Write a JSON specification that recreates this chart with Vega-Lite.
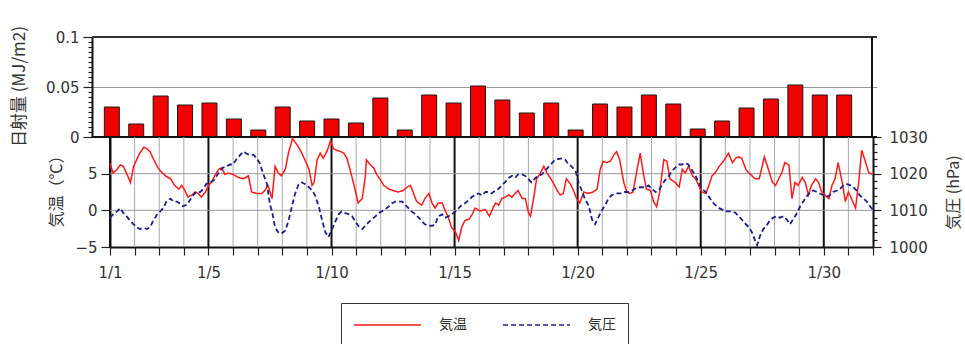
{
  "$schema": "https://vega.github.io/schema/vega-lite/v6.json",
  "width": 785,
  "height": 210,
  "autosize": {"type": "none"},
  "padding": {"left": 92, "top": 37, "right": 88, "bottom": 97},
  "background": "white",
  "config": {
    "view": {"stroke": null},
    "axis": {
      "labelFont": "DejaVu Sans",
      "labelFontSize": 15,
      "labelColor": "#333",
      "titleFont": "Noto Sans CJK JP",
      "titleFontSize": 16,
      "titleFontWeight": "normal",
      "titleColor": "#333",
      "titleAlign": "center",
      "titleBaseline": "middle",
      "domainColor": "#111",
      "domainWidth": 2,
      "tickColor": "#222",
      "tickWidth": 1.2,
      "labelOverlap": false,
      "labelFlush": false
    }
  },
  "datasets": {
    "radiation": [
      {"day": 1, "rad": 0.030}, {"day": 2, "rad": 0.013}, {"day": 3, "rad": 0.041}, {"day": 4, "rad": 0.032},
      {"day": 5, "rad": 0.034}, {"day": 6, "rad": 0.018}, {"day": 7, "rad": 0.007}, {"day": 8, "rad": 0.030},
      {"day": 9, "rad": 0.016}, {"day": 10, "rad": 0.018}, {"day": 11, "rad": 0.014}, {"day": 12, "rad": 0.039},
      {"day": 13, "rad": 0.007}, {"day": 14, "rad": 0.042}, {"day": 15, "rad": 0.034}, {"day": 16, "rad": 0.051},
      {"day": 17, "rad": 0.037}, {"day": 18, "rad": 0.024}, {"day": 19, "rad": 0.034}, {"day": 20, "rad": 0.007},
      {"day": 21, "rad": 0.033}, {"day": 22, "rad": 0.030}, {"day": 23, "rad": 0.042}, {"day": 24, "rad": 0.033},
      {"day": 25, "rad": 0.008}, {"day": 26, "rad": 0.016}, {"day": 27, "rad": 0.029}, {"day": 28, "rad": 0.038},
      {"day": 29, "rad": 0.052}, {"day": 30, "rad": 0.042}, {"day": 31, "rad": 0.042}
    ],
    "minorDays": [
      {"hour": 24}, {"hour": 48}, {"hour": 72}, {"hour": 120}, {"hour": 144}, {"hour": 168}, {"hour": 192},
      {"hour": 240}, {"hour": 264}, {"hour": 288}, {"hour": 312}, {"hour": 360}, {"hour": 384}, {"hour": 408},
      {"hour": 432}, {"hour": 480}, {"hour": 504}, {"hour": 528}, {"hour": 552}, {"hour": 600}, {"hour": 624},
      {"hour": 648}, {"hour": 672}, {"hour": 720}
    ],
    "majorDays": [
      {"hour": 0}, {"hour": 96}, {"hour": 216}, {"hour": 336}, {"hour": 456}, {"hour": 576}, {"hour": 696}
    ],
    "tempLevels": [{"temp": 0}, {"temp": 5}],
    "temperature": [
      {"hour": 0, "temp": 6.4}, {"hour": 3, "temp": 5.1}, {"hour": 7, "temp": 5.6}, {"hour": 10, "temp": 6.2},
      {"hour": 13, "temp": 6.0}, {"hour": 16, "temp": 5.1}, {"hour": 20, "temp": 3.8}, {"hour": 23, "temp": 6.0},
      {"hour": 26, "temp": 6.9}, {"hour": 29, "temp": 7.8}, {"hour": 33, "temp": 8.6}, {"hour": 36, "temp": 8.4},
      {"hour": 39, "temp": 8.0}, {"hour": 42, "temp": 7.1}, {"hour": 46, "temp": 6.0}, {"hour": 49, "temp": 5.4},
      {"hour": 54, "temp": 4.7}, {"hour": 59, "temp": 4.3}, {"hour": 63, "temp": 3.4}, {"hour": 67, "temp": 2.9},
      {"hour": 70, "temp": 3.4}, {"hour": 73, "temp": 2.7}, {"hour": 76, "temp": 1.8}, {"hour": 80, "temp": 2.1},
      {"hour": 83, "temp": 2.5}, {"hour": 86, "temp": 2.3}, {"hour": 89, "temp": 1.8}, {"hour": 93, "temp": 2.5},
      {"hour": 96, "temp": 3.4}, {"hour": 99, "temp": 3.8}, {"hour": 102, "temp": 4.7}, {"hour": 106, "temp": 5.6},
      {"hour": 109, "temp": 5.8}, {"hour": 112, "temp": 4.9}, {"hour": 115, "temp": 5.1}, {"hour": 120, "temp": 4.9},
      {"hour": 125, "temp": 4.5}, {"hour": 130, "temp": 4.3}, {"hour": 135, "temp": 4.7}, {"hour": 138, "temp": 2.5},
      {"hour": 143, "temp": 2.3}, {"hour": 148, "temp": 2.3}, {"hour": 151, "temp": 2.7}, {"hour": 154, "temp": 3.4},
      {"hour": 158, "temp": 1.6}, {"hour": 161, "temp": 6.0}, {"hour": 164, "temp": 5.1}, {"hour": 167, "temp": 4.7},
      {"hour": 171, "temp": 5.6}, {"hour": 174, "temp": 7.8}, {"hour": 178, "temp": 9.8}, {"hour": 181, "temp": 9.2},
      {"hour": 184, "temp": 8.6}, {"hour": 187, "temp": 7.8}, {"hour": 190, "temp": 6.9}, {"hour": 194, "temp": 5.6},
      {"hour": 197, "temp": 3.4}, {"hour": 199, "temp": 3.8}, {"hour": 202, "temp": 6.9}, {"hour": 205, "temp": 7.8},
      {"hour": 208, "temp": 7.1}, {"hour": 212, "temp": 8.2}, {"hour": 215, "temp": 9.5}, {"hour": 218, "temp": 8.4},
      {"hour": 221, "temp": 8.2}, {"hour": 225, "temp": 8.0}, {"hour": 228, "temp": 7.8}, {"hour": 231, "temp": 7.1},
      {"hour": 234, "temp": 5.6}, {"hour": 238, "temp": 3.4}, {"hour": 242, "temp": 1.0}, {"hour": 246, "temp": 1.6},
      {"hour": 249, "temp": 4.7}, {"hour": 250, "temp": 6.9}, {"hour": 254, "temp": 6.2}, {"hour": 257, "temp": 5.8},
      {"hour": 260, "temp": 4.9}, {"hour": 263, "temp": 4.3}, {"hour": 267, "temp": 3.4}, {"hour": 272, "temp": 2.9},
      {"hour": 276, "temp": 2.7}, {"hour": 281, "temp": 2.5}, {"hour": 286, "temp": 2.7}, {"hour": 290, "temp": 3.2},
      {"hour": 293, "temp": 3.4}, {"hour": 296, "temp": 2.3}, {"hour": 299, "temp": 1.2}, {"hour": 304, "temp": 0.7},
      {"hour": 307, "temp": 1.6}, {"hour": 311, "temp": 2.3}, {"hour": 314, "temp": 1.0}, {"hour": 317, "temp": 0.3},
      {"hour": 320, "temp": 1.0}, {"hour": 324, "temp": 1.0}, {"hour": 327, "temp": -0.1}, {"hour": 330, "temp": -1.0},
      {"hour": 333, "temp": -2.3}, {"hour": 337, "temp": -3.0}, {"hour": 340, "temp": -4.1}, {"hour": 343, "temp": -2.3},
      {"hour": 346, "temp": -1.4}, {"hour": 350, "temp": -1.2}, {"hour": 353, "temp": -0.6}, {"hour": 356, "temp": 0.3},
      {"hour": 361, "temp": -0.1}, {"hour": 366, "temp": 0.1}, {"hour": 370, "temp": -0.8}, {"hour": 374, "temp": 0.5},
      {"hour": 376, "temp": 1.0}, {"hour": 379, "temp": 0.7}, {"hour": 382, "temp": 1.6}, {"hour": 385, "temp": 1.8},
      {"hour": 389, "temp": 2.1}, {"hour": 392, "temp": 1.8}, {"hour": 395, "temp": 2.3}, {"hour": 398, "temp": 2.7},
      {"hour": 402, "temp": 1.6}, {"hour": 405, "temp": 1.6}, {"hour": 408, "temp": -0.3}, {"hour": 410, "temp": -0.8},
      {"hour": 413, "temp": 1.6}, {"hour": 416, "temp": 4.3}, {"hour": 419, "temp": 4.9}, {"hour": 423, "temp": 6.0},
      {"hour": 426, "temp": 5.1}, {"hour": 429, "temp": 4.5}, {"hour": 432, "temp": 3.8}, {"hour": 436, "temp": 2.7},
      {"hour": 439, "temp": 2.1}, {"hour": 442, "temp": 2.3}, {"hour": 445, "temp": 4.3}, {"hour": 449, "temp": 3.6},
      {"hour": 452, "temp": 2.7}, {"hour": 455, "temp": 1.6}, {"hour": 458, "temp": 1.0}, {"hour": 462, "temp": 2.5},
      {"hour": 466, "temp": 2.3}, {"hour": 471, "temp": 2.5}, {"hour": 475, "temp": 2.9}, {"hour": 478, "temp": 5.6},
      {"hour": 481, "temp": 6.7}, {"hour": 484, "temp": 6.5}, {"hour": 488, "temp": 6.7}, {"hour": 491, "temp": 7.5},
      {"hour": 494, "temp": 8.0}, {"hour": 497, "temp": 6.9}, {"hour": 501, "temp": 3.8}, {"hour": 504, "temp": 2.5},
      {"hour": 507, "temp": 2.3}, {"hour": 510, "temp": 2.5}, {"hour": 514, "temp": 5.6}, {"hour": 517, "temp": 7.8},
      {"hour": 520, "temp": 5.1}, {"hour": 523, "temp": 2.9}, {"hour": 527, "temp": 2.7}, {"hour": 530, "temp": 1.2},
      {"hour": 533, "temp": 0.5}, {"hour": 536, "temp": 2.5}, {"hour": 540, "temp": 6.9}, {"hour": 543, "temp": 6.7},
      {"hour": 546, "temp": 4.3}, {"hour": 551, "temp": 3.8}, {"hour": 555, "temp": 3.2}, {"hour": 558, "temp": 5.6},
      {"hour": 561, "temp": 5.1}, {"hour": 564, "temp": 6.0}, {"hour": 568, "temp": 4.7}, {"hour": 571, "temp": 4.3},
      {"hour": 574, "temp": 3.4}, {"hour": 577, "temp": 2.5}, {"hour": 581, "temp": 2.3}, {"hour": 584, "temp": 3.4},
      {"hour": 587, "temp": 4.7}, {"hour": 590, "temp": 5.1}, {"hour": 594, "temp": 6.0}, {"hour": 597, "temp": 6.5},
      {"hour": 600, "temp": 7.1}, {"hour": 603, "temp": 7.8}, {"hour": 607, "temp": 6.5}, {"hour": 610, "temp": 7.1},
      {"hour": 613, "temp": 7.3}, {"hour": 616, "temp": 7.1}, {"hour": 620, "temp": 5.6}, {"hour": 623, "temp": 5.1},
      {"hour": 626, "temp": 4.7}, {"hour": 629, "temp": 4.3}, {"hour": 633, "temp": 4.3}, {"hour": 636, "temp": 6.0},
      {"hour": 638, "temp": 7.3}, {"hour": 642, "temp": 5.6}, {"hour": 646, "temp": 3.8}, {"hour": 649, "temp": 3.4},
      {"hour": 652, "temp": 4.3}, {"hour": 655, "temp": 5.1}, {"hour": 658, "temp": 6.5}, {"hour": 662, "temp": 6.2},
      {"hour": 665, "temp": 1.6}, {"hour": 668, "temp": 3.8}, {"hour": 671, "temp": 3.4}, {"hour": 675, "temp": 4.5},
      {"hour": 678, "temp": 3.8}, {"hour": 681, "temp": 2.1}, {"hour": 684, "temp": 3.4}, {"hour": 688, "temp": 4.3},
      {"hour": 691, "temp": 3.8}, {"hour": 694, "temp": 2.5}, {"hour": 697, "temp": 2.1}, {"hour": 701, "temp": 1.6},
      {"hour": 704, "temp": 3.4}, {"hour": 707, "temp": 4.3}, {"hour": 710, "temp": 6.5}, {"hour": 714, "temp": 3.8},
      {"hour": 717, "temp": 1.2}, {"hour": 720, "temp": 2.5}, {"hour": 723, "temp": 1.6}, {"hour": 727, "temp": 0.3},
      {"hour": 730, "temp": 3.8}, {"hour": 733, "temp": 8.2}, {"hour": 736, "temp": 6.9}, {"hour": 740, "temp": 5.1},
      {"hour": 744, "temp": 4.9}
    ],
    "pressure": [
      {"hour": 0, "hPa": 1008.0}, {"hour": 3, "hPa": 1008.9}, {"hour": 7, "hPa": 1009.7}, {"hour": 10, "hPa": 1010.6},
      {"hour": 13, "hPa": 1009.3}, {"hour": 16, "hPa": 1008.4}, {"hour": 20, "hPa": 1007.1}, {"hour": 23, "hPa": 1006.2},
      {"hour": 26, "hPa": 1005.4}, {"hour": 29, "hPa": 1004.9}, {"hour": 33, "hPa": 1005.2}, {"hour": 36, "hPa": 1004.9},
      {"hour": 39, "hPa": 1005.4}, {"hour": 42, "hPa": 1007.1}, {"hour": 46, "hPa": 1008.9}, {"hour": 49, "hPa": 1009.7},
      {"hour": 52, "hPa": 1010.6}, {"hour": 55, "hPa": 1012.4}, {"hour": 59, "hPa": 1013.2}, {"hour": 62, "hPa": 1012.4},
      {"hour": 65, "hPa": 1012.4}, {"hour": 68, "hPa": 1011.9}, {"hour": 71, "hPa": 1011.1}, {"hour": 75, "hPa": 1011.5},
      {"hour": 78, "hPa": 1012.8}, {"hour": 81, "hPa": 1014.1}, {"hour": 84, "hPa": 1015.0}, {"hour": 88, "hPa": 1015.0},
      {"hour": 91, "hPa": 1015.9}, {"hour": 94, "hPa": 1017.2}, {"hour": 97, "hPa": 1017.6}, {"hour": 101, "hPa": 1018.1},
      {"hour": 104, "hPa": 1019.4}, {"hour": 107, "hPa": 1020.7}, {"hour": 110, "hPa": 1021.6}, {"hour": 114, "hPa": 1022.0},
      {"hour": 117, "hPa": 1022.5}, {"hour": 120, "hPa": 1022.5}, {"hour": 123, "hPa": 1023.8}, {"hour": 127, "hPa": 1025.1},
      {"hour": 130, "hPa": 1026.0}, {"hour": 133, "hPa": 1025.5}, {"hour": 136, "hPa": 1025.1}, {"hour": 140, "hPa": 1025.1},
      {"hour": 143, "hPa": 1024.2}, {"hour": 146, "hPa": 1022.9}, {"hour": 149, "hPa": 1020.3}, {"hour": 153, "hPa": 1017.2},
      {"hour": 156, "hPa": 1011.5}, {"hour": 158, "hPa": 1009.7}, {"hour": 161, "hPa": 1005.4}, {"hour": 164, "hPa": 1004.0},
      {"hour": 167, "hPa": 1003.6}, {"hour": 171, "hPa": 1004.5}, {"hour": 174, "hPa": 1007.1}, {"hour": 177, "hPa": 1010.6},
      {"hour": 180, "hPa": 1014.1}, {"hour": 184, "hPa": 1017.2}, {"hour": 187, "hPa": 1017.6}, {"hour": 190, "hPa": 1017.2},
      {"hour": 194, "hPa": 1016.3}, {"hour": 197, "hPa": 1015.4}, {"hour": 200, "hPa": 1014.1}, {"hour": 204, "hPa": 1010.6},
      {"hour": 207, "hPa": 1007.1}, {"hour": 210, "hPa": 1004.0}, {"hour": 213, "hPa": 1002.7}, {"hour": 216, "hPa": 1004.5},
      {"hour": 220, "hPa": 1007.1}, {"hour": 223, "hPa": 1008.9}, {"hour": 226, "hPa": 1009.7}, {"hour": 229, "hPa": 1009.3},
      {"hour": 233, "hPa": 1008.9}, {"hour": 236, "hPa": 1008.4}, {"hour": 239, "hPa": 1007.1}, {"hour": 242, "hPa": 1005.8},
      {"hour": 246, "hPa": 1004.9}, {"hour": 249, "hPa": 1005.8}, {"hour": 252, "hPa": 1006.7}, {"hour": 255, "hPa": 1007.5},
      {"hour": 259, "hPa": 1008.4}, {"hour": 262, "hPa": 1009.3}, {"hour": 265, "hPa": 1009.7}, {"hour": 268, "hPa": 1010.2},
      {"hour": 272, "hPa": 1011.1}, {"hour": 275, "hPa": 1011.9}, {"hour": 278, "hPa": 1012.4}, {"hour": 281, "hPa": 1012.4},
      {"hour": 285, "hPa": 1012.4}, {"hour": 288, "hPa": 1011.5}, {"hour": 291, "hPa": 1010.6}, {"hour": 294, "hPa": 1009.7},
      {"hour": 298, "hPa": 1008.9}, {"hour": 301, "hPa": 1008.0}, {"hour": 304, "hPa": 1007.1}, {"hour": 307, "hPa": 1006.2},
      {"hour": 311, "hPa": 1005.8}, {"hour": 314, "hPa": 1005.8}, {"hour": 317, "hPa": 1006.0}, {"hour": 320, "hPa": 1008.4},
      {"hour": 324, "hPa": 1008.9}, {"hour": 327, "hPa": 1008.0}, {"hour": 330, "hPa": 1008.4}, {"hour": 333, "hPa": 1008.9},
      {"hour": 337, "hPa": 1009.7}, {"hour": 340, "hPa": 1010.6}, {"hour": 343, "hPa": 1011.5}, {"hour": 346, "hPa": 1011.9},
      {"hour": 350, "hPa": 1012.8}, {"hour": 353, "hPa": 1013.7}, {"hour": 356, "hPa": 1014.1}, {"hour": 359, "hPa": 1014.6},
      {"hour": 363, "hPa": 1014.1}, {"hour": 366, "hPa": 1015.0}, {"hour": 369, "hPa": 1015.0}, {"hour": 372, "hPa": 1014.6},
      {"hour": 376, "hPa": 1015.4}, {"hour": 379, "hPa": 1015.9}, {"hour": 382, "hPa": 1016.8}, {"hour": 385, "hPa": 1017.6},
      {"hour": 389, "hPa": 1018.9}, {"hour": 392, "hPa": 1019.4}, {"hour": 395, "hPa": 1018.9}, {"hour": 398, "hPa": 1019.8},
      {"hour": 402, "hPa": 1019.8}, {"hour": 405, "hPa": 1019.4}, {"hour": 408, "hPa": 1018.5}, {"hour": 411, "hPa": 1017.6},
      {"hour": 415, "hPa": 1018.9}, {"hour": 418, "hPa": 1019.4}, {"hour": 421, "hPa": 1019.8}, {"hour": 424, "hPa": 1020.7},
      {"hour": 428, "hPa": 1022.0}, {"hour": 431, "hPa": 1022.9}, {"hour": 434, "hPa": 1023.8}, {"hour": 437, "hPa": 1024.0},
      {"hour": 441, "hPa": 1024.2}, {"hour": 444, "hPa": 1023.8}, {"hour": 447, "hPa": 1022.5}, {"hour": 450, "hPa": 1022.0},
      {"hour": 454, "hPa": 1020.7}, {"hour": 457, "hPa": 1017.6}, {"hour": 460, "hPa": 1015.4}, {"hour": 463, "hPa": 1013.2},
      {"hour": 467, "hPa": 1011.1}, {"hour": 470, "hPa": 1007.5}, {"hour": 473, "hPa": 1006.2}, {"hour": 476, "hPa": 1008.0},
      {"hour": 480, "hPa": 1010.2}, {"hour": 483, "hPa": 1011.5}, {"hour": 486, "hPa": 1013.2}, {"hour": 489, "hPa": 1014.1},
      {"hour": 493, "hPa": 1014.6}, {"hour": 496, "hPa": 1014.6}, {"hour": 499, "hPa": 1014.6}, {"hour": 502, "hPa": 1015.0},
      {"hour": 506, "hPa": 1015.0}, {"hour": 509, "hPa": 1015.4}, {"hour": 512, "hPa": 1015.9}, {"hour": 515, "hPa": 1016.3},
      {"hour": 519, "hPa": 1016.3}, {"hour": 522, "hPa": 1016.3}, {"hour": 525, "hPa": 1016.8}, {"hour": 528, "hPa": 1015.9},
      {"hour": 532, "hPa": 1015.0}, {"hour": 535, "hPa": 1015.4}, {"hour": 538, "hPa": 1016.8}, {"hour": 541, "hPa": 1018.1},
      {"hour": 545, "hPa": 1019.4}, {"hour": 548, "hPa": 1020.7}, {"hour": 551, "hPa": 1021.6}, {"hour": 555, "hPa": 1022.5},
      {"hour": 558, "hPa": 1022.5}, {"hour": 561, "hPa": 1022.9}, {"hour": 564, "hPa": 1022.5}, {"hour": 568, "hPa": 1020.7},
      {"hour": 571, "hPa": 1019.4}, {"hour": 574, "hPa": 1017.6}, {"hour": 577, "hPa": 1015.9}, {"hour": 581, "hPa": 1015.0},
      {"hour": 584, "hPa": 1013.7}, {"hour": 587, "hPa": 1012.4}, {"hour": 590, "hPa": 1011.5}, {"hour": 594, "hPa": 1010.6},
      {"hour": 597, "hPa": 1010.2}, {"hour": 600, "hPa": 1009.7}, {"hour": 603, "hPa": 1009.7}, {"hour": 607, "hPa": 1009.7},
      {"hour": 610, "hPa": 1009.3}, {"hour": 613, "hPa": 1008.4}, {"hour": 616, "hPa": 1007.5}, {"hour": 620, "hPa": 1006.2},
      {"hour": 623, "hPa": 1005.4}, {"hour": 626, "hPa": 1004.0}, {"hour": 629, "hPa": 1001.8}, {"hour": 631, "hPa": 1000.5},
      {"hour": 634, "hPa": 1003.2}, {"hour": 637, "hPa": 1004.9}, {"hour": 640, "hPa": 1005.8}, {"hour": 644, "hPa": 1007.5},
      {"hour": 647, "hPa": 1008.0}, {"hour": 650, "hPa": 1008.4}, {"hour": 653, "hPa": 1008.0}, {"hour": 657, "hPa": 1008.4},
      {"hour": 660, "hPa": 1007.5}, {"hour": 663, "hPa": 1006.2}, {"hour": 666, "hPa": 1007.5}, {"hour": 670, "hPa": 1009.3},
      {"hour": 673, "hPa": 1011.1}, {"hour": 676, "hPa": 1012.4}, {"hour": 679, "hPa": 1013.7}, {"hour": 683, "hPa": 1015.0},
      {"hour": 686, "hPa": 1015.4}, {"hour": 689, "hPa": 1015.0}, {"hour": 692, "hPa": 1014.6}, {"hour": 696, "hPa": 1014.1},
      {"hour": 699, "hPa": 1013.7}, {"hour": 702, "hPa": 1014.1}, {"hour": 705, "hPa": 1015.0}, {"hour": 709, "hPa": 1015.4},
      {"hour": 712, "hPa": 1015.9}, {"hour": 715, "hPa": 1016.8}, {"hour": 718, "hPa": 1017.2}, {"hour": 722, "hPa": 1016.8},
      {"hour": 725, "hPa": 1016.3}, {"hour": 728, "hPa": 1015.4}, {"hour": 731, "hPa": 1014.1}, {"hour": 735, "hPa": 1013.2},
      {"hour": 738, "hPa": 1012.4}, {"hour": 741, "hPa": 1011.1}, {"hour": 744, "hPa": 1010.2}
    ]
  },
  "layer": [
    {
      "layer": [
        {
          "data": {"name": "radiation"},
          "mark": {"type": "bar", "width": 15, "fill": "#f20000", "stroke": "#1a1a1a", "strokeWidth": 1},
          "encoding": {
            "x": {"field": "day", "type": "quantitative", "scale": {"domain": [0.393, 32.14], "nice": false, "zero": false}, "axis": null},
            "y": {
              "field": "rad", "type": "quantitative",
              "scale": {"domain": [0, 0.1], "range": [100, 0], "nice": false},
              "axis": {
                "orient": "left",
                "title": "日射量 (MJ/m2)",
                "titleFontSize": 17,
                "titleAngle": 270,
                "titleX": -73,
                "titleY": 49,
                "values": [0, 0.005, 0.01, 0.015, 0.02, 0.025, 0.03, 0.035, 0.04, 0.045, 0.05, 0.055, 0.06, 0.065, 0.07, 0.075, 0.08, 0.085, 0.09, 0.095, 0.1],
                "tickCount": 1000,
                "tickSize": {"condition": {"test": "abs(datum.value * 20 - round(datum.value * 20)) < 0.001", "value": 9}, "value": 4},
                "labelExpr": "abs(datum.value * 20 - round(datum.value * 20)) < 0.001 ? format(datum.value, '~g') : ''",
                "labelOverlap": false,
                "grid": true,
                "gridColor": {"condition": {"test": "abs(datum.value - 0.05) < 0.001", "value": "#999999"}, "value": "rgba(0,0,0,0)"},
                "labelPadding": 4
              }
            }
          }
        },
        {
          "data": {"values": [{}]},
          "mark": {"type": "rule", "color": "#111", "strokeWidth": 2},
          "encoding": {"y": {"datum": 0}}
        },
        {
          "data": {"values": [{}]},
          "mark": {"type": "rule", "color": "#333", "strokeWidth": 2},
          "encoding": {"y": {"datum": 0.1}}
        },
        {
          "data": {"values": [{}]},
          "mark": {"type": "rule", "color": "#111", "strokeWidth": 2},
          "encoding": {"x": {"datum": 32.14, "axis": null}, "y": {"datum": 0}, "y2": {"datum": 0.1}}
        }
      ]
    },
    {
      "layer": [
        {
          "data": {"name": "minorDays"},
          "mark": {"type": "rule", "color": "#aaaaaa", "strokeWidth": 1},
          "encoding": {
            "x": {"field": "hour", "type": "quantitative", "axis": null},
            "y": {"datum": -5, "scale": {"domain": [-5, 10], "range": [210, 100], "nice": false, "zero": false}, "axis": null},
            "y2": {"datum": 10}
          }
        },
        {
          "data": {"name": "majorDays"},
          "mark": {"type": "rule", "color": "#111111", "strokeWidth": 2},
          "encoding": {
            "x": {"field": "hour", "type": "quantitative", "axis": null},
            "y": {"datum": -5, "scale": {"domain": [-5, 10], "range": [210, 100], "nice": false, "zero": false}, "axis": null},
            "y2": {"datum": 10}
          }
        },
        {
          "data": {"name": "tempLevels"},
          "mark": {"type": "rule", "color": "#999999", "strokeWidth": 1},
          "encoding": {
            "y": {"field": "temp", "type": "quantitative", "scale": {"domain": [-5, 10], "range": [210, 100], "nice": false, "zero": false}, "axis": null},
            "x": {"datum": 0, "axis": null},
            "x2": {"datum": 744}
          }
        },
        {
          "data": {"name": "temperature"},
          "mark": {"type": "line", "strokeWidth": 1.5},
          "encoding": {
            "x": {
              "field": "hour", "type": "quantitative",
              "scale": {"domain": [0, 744], "range": [18, 781], "nice": false, "zero": false},
              "axis": {
                "orient": "bottom",
                "title": null,
                "values": [0, 24, 48, 72, 96, 120, 144, 168, 192, 216, 240, 264, 288, 312, 336, 360, 384, 408, 432, 456, 480, 504, 528, 552, 576, 600, 624, 648, 672, 696, 720, 744],
                "tickCount": 1000,
                "tickSize": 8,
                "labelPadding": 10,
                "labelOverlap": false,
                "labelExpr": "(datum.value == 0 || datum.value % 120 == 96) ? '1/' + (datum.value / 24 + 1) : ''",
                "grid": false
              }
            },
            "y": {
              "field": "temp", "type": "quantitative",
              "scale": {"domain": [-5, 10], "range": [210, 100], "nice": false, "zero": false},
              "axis": {
                "orient": "left",
                "offset": -18,
                "title": "気温（℃）",
                "titleAngle": 270,
                "titleX": -54,
                "titleY": 150,
                "values": [-5, 0, 5],
                "tickCount": 1000,
                "format": "d",
                "labelOverlap": false,
                "grid": false,
                "tickSize": 9,
                "labelPadding": 4
              }
            },
            "color": {
              "datum": "気温", "type": "nominal",
              "scale": {"domain": ["気温", "気圧"], "range": ["#ff1a1a", "#1f1f8c"]},
              "legend": {
                "title": null,
                "orient": "none",
                "legendX": 249,
                "legendY": 266,
                "direction": "horizontal",
                "symbolType": "stroke",
                "symbolSize": 4489,
                "symbolStrokeWidth": 1.5,
                "clipHeight": 20,
                "labelFont": "Noto Sans CJK JP",
                "labelFontSize": 14,
                "labelColor": "#333",
                "labelOffset": 17,
                "columnPadding": 35,
                "padding": 12,
                "strokeColor": "#333",
                "fillColor": "white"
              }
            },
            "strokeDash": {
              "datum": "気温", "type": "nominal",
              "scale": {"domain": ["気温", "気圧"], "range": [[1, 0], [5, 3]]},
              "legend": {
                "title": null,
                "orient": "none",
                "legendX": 249,
                "legendY": 266,
                "direction": "horizontal",
                "symbolType": "stroke",
                "symbolSize": 4489,
                "symbolStrokeWidth": 1.5,
                "clipHeight": 20,
                "labelFont": "Noto Sans CJK JP",
                "labelFontSize": 14,
                "labelColor": "#333",
                "labelOffset": 17,
                "columnPadding": 35,
                "padding": 12,
                "strokeColor": "#333",
                "fillColor": "white"
              }
            }
          }
        },
        {
          "data": {"name": "pressure"},
          "mark": {"type": "line", "strokeWidth": 1.8},
          "encoding": {
            "x": {"field": "hour", "type": "quantitative", "axis": null},
            "y": {
              "field": "hPa", "type": "quantitative",
              "scale": {"domain": [1000, 1030], "range": [210, 100], "nice": false, "zero": false},
              "axis": {
                "orient": "right",
                "offset": -4,
                "title": "気圧 (hPa)",
                "titleAngle": 270,
                "titleX": 80,
                "titleY": 155,
                "values": [1000, 1002, 1004, 1006, 1008, 1010, 1012, 1014, 1016, 1018, 1020, 1022, 1024, 1026, 1028, 1030],
                "tickCount": 1000,
                "tickSize": {"condition": {"test": "datum.value % 10 == 0", "value": 8}, "value": 4},
                "labelExpr": "datum.value % 10 == 0 ? format(datum.value, 'd') : ''",
                "labelOverlap": false,
                "grid": false,
                "labelPadding": 8
              }
            },
            "color": {"datum": "気圧", "type": "nominal"},
            "strokeDash": {"datum": "気圧", "type": "nominal"}
          }
        }
      ],
      "resolve": {"scale": {"y": "independent"}, "axis": {"x": "independent"}}
    }
  ],
  "resolve": {"scale": {"x": "independent", "y": "independent"}}
}
